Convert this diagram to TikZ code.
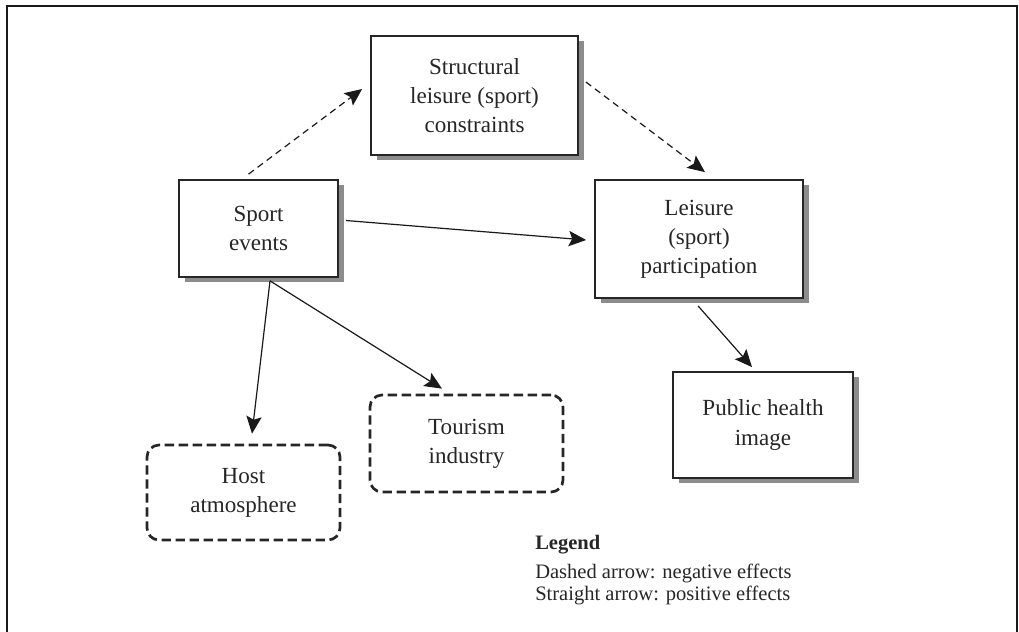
\documentclass[tikz,border=0pt]{standalone}
\usepackage{fontspec}
\setmainfont{Liberation Serif}
\usetikzlibrary{arrows.meta,shadows,calc}
\begin{document}
\begin{tikzpicture}[x=0.75pt,y=-0.75pt,
  boxfont/.style={font=\fontsize{17.3}{21.8}\selectfont, align=center, text=black!85},
  solidbox/.style={boxfont, draw=black!85, line width=1.3pt, fill=white,
     drop shadow={shadow xshift=4.5pt, shadow yshift=-4pt, fill=black!45, opacity=1}},
  dashbox/.style={boxfont, draw=black!85, line width=2pt, dash pattern=on 7pt off 3.5pt, rounded corners=9pt, fill=white},
  arrtip/.style={-{Stealth[length=13pt,width=11.5pt,inset=2.5pt]}},
  posarrow/.style={arrtip, line width=0.9pt, draw=black!90},
  negarrow/.style={arrtip, line width=0.9pt, draw=black!90, dash pattern=on 5pt off 3.5pt},
  legendtext/.style={font=\fontsize{15.4}{18}\selectfont, anchor=base west, inner sep=0pt, text=black!85}
]
\useasboundingbox (0,0) rectangle (1019,631);
\draw[line width=1.8pt, black!90] (7,640) -- (7,6) -- (1017,6) -- (1017,640);

\node[solidbox, minimum width=159*0.75pt, minimum height=97*0.75pt] (sport) at (258.5,228.5) {Sport\\events};
\node[solidbox, minimum width=207*0.75pt, minimum height=119*0.75pt] (struct) at (474.5,95.5) {Structural\\leisure (sport)\\constraints};
\node[solidbox, minimum width=208*0.75pt, minimum height=118*0.75pt] (leis) at (699,239) {Leisure\\(sport)\\participation};
\node[solidbox, minimum width=180*0.75pt, minimum height=106*0.75pt] (pub) at (763,425) {Public health\\image};
\node[dashbox, minimum width=193*0.75pt, minimum height=95*0.75pt] (host) at (243.5,492.5) {Host\\atmosphere};
\node[dashbox, minimum width=193*0.75pt, minimum height=97*0.75pt] (tour) at (466.5,443.5) {Tourism\\industry};

\draw[negarrow] ($(sport.north)+(-10,-5)$) -- ($(struct.west)+(-8,-6.5)$);
\draw[negarrow] ($(struct.east)+(7,-13.5)$) -- ($(leis.north)+(6,-7)$);
\draw[posarrow] ($(sport.east)+(7,-8)$) -- ($(leis.west)+(-8,1)$);
\draw[posarrow] ($(sport.south)+(11.5,3)$) -- ($(host.north)+(8.5,-10)$);
\draw[posarrow] ($(sport.south)+(11.5,3)$) -- ($(tour.north)+(-24.5,-5)$);
\draw[posarrow] ($(leis.south)+(-1,7)$) -- ($(pub.north)+(-11,-4)$);

\node[legendtext, font=\fontsize{15.4}{18}\selectfont\bfseries] (lg) at (535,549) {Legend};
\node[legendtext] (lg1) at (535,578.5) {Dashed arrow: negative effects};
\node[legendtext] (lg2) at (535,600) {Straight arrow: positive effects};
\end{tikzpicture}
\end{document}
